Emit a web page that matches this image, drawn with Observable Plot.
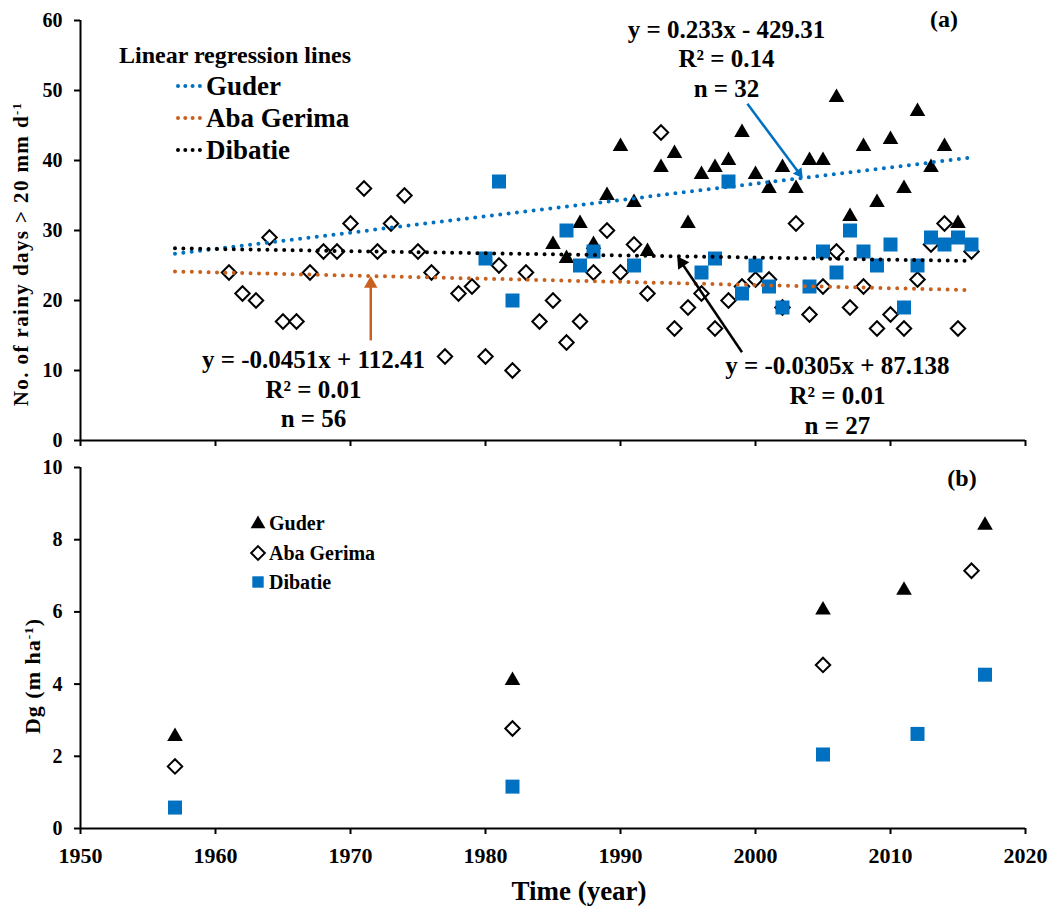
<!DOCTYPE html>
<html><head><meta charset="utf-8">
<script src="https://cdn.jsdelivr.net/npm/d3@7"></script>
<script src="https://cdn.jsdelivr.net/npm/@observablehq/plot@0.6"></script>
<style>
html,body{margin:0;padding:0;background:#fff;}
#wrap{position:relative;width:1052px;height:908px;overflow:hidden;font-family:"Liberation Serif","Times New Roman",serif;font-weight:bold;color:#000;}
#wrap .abs{position:absolute;white-space:nowrap;line-height:1;}
#wrap .panel{position:absolute;left:0;}
#wrap svg text{font-family:"Liberation Serif","Times New Roman",serif !important;font-weight:bold !important;}
sup{font-size:0.6em;vertical-align:0.55em;line-height:0;}
</style></head><body><div id="wrap"></div>
<script>
// ---------------- data ----------------
const stations = ["Guder", "Aba Gerima", "Dibatie"];

// (a) number of rainy days > 20 mm per year
const guderYears = [1985,1986,1987,1988,1989,1990,1991,1992,1993,1994,1995,1996,1997,1998,1999,2000,2001,2002,2003,2004,2005,2006,2007,2008,2009,2010,2011,2012,2013,2014,2015];
const guderDays  = [28,26,31,28,35,42,34,27,39,41,31,38,39,40,44,38,36,39,36,40,40,49,32,42,34,43,36,47,39,42,31];

const abaYears = [1961,1962,1963,1964,1965,1966,1967,1968,1969,1970,1971,1972,1973,1974,1975,1976,1977,1978,1979,1980,1981,1982,1983,1984,1985,1986,1987,1988,1989,1990,1991,1992,1993,1994,1995,1996,1997,1998,1999,2000,2001,2002,2003,2004,2005,2006,2007,2008,2009,2010,2011,2012,2013,2014,2015,2016];
const abaDays  = [24,21,20,29,17,17,24,27,27,31,36,27,31,35,27,24,12,21,22,12,25,10,24,17,20,14,17,24,30,24,28,21,44,16,19,21,16,20,22,23,23,19,31,18,22,27,19,22,16,18,16,23,28,31,16,27];

const dibatieYears = [1980,1981,1982,1986,1987,1988,1991,1996,1997,1998,1999,2000,2001,2002,2004,2005,2006,2007,2008,2009,2010,2011,2012,2013,2014,2015,2016];
const dibatieDays  = [26,37,20,30,25,27,25,24,26,37,21,25,22,19,22,27,24,30,27,25,28,19,25,29,28,29,28];

// linear regression lines (as reported in the chart)
const trendSlope     = [0.233, -0.0451, -0.0305];
const trendIntercept = [-429.31, 112.41, 87.138];
const trendR2        = [0.14, 0.01, 0.01];
const trendN         = [32, 56, 27];
const trendSpan      = [1957, 2016];

// (b) Dg (m ha-1)
const dgGuderYears   = [1957, 1982, 2005, 2011, 2017];
const dgGuder        = [2.55, 4.1, 6.05, 6.6, 8.4];
const dgAbaYears     = [1957, 1982, 2005, 2016];
const dgAba          = [1.72, 2.77, 4.53, 7.14];
const dgDibatieYears = [1957, 1982, 2005, 2012, 2017];
const dgDibatie      = [0.58, 1.16, 2.05, 2.62, 4.26];

const xTicks  = [1950, 1960, 1970, 1980, 1990, 2000, 2010, 2020];
const yTicksA = [0, 10, 20, 30, 40, 50, 60];
const yTicksB = [0, 2, 4, 6, 8, 10];

// ---------------- styles ----------------
const FONT = "Liberation Serif, Times New Roman, serif";
const BLUE = "#0070C0", ORANGE = "#C8611F", BLACK = "#000000";
const trendColors = [BLUE, ORANGE, BLACK];

const toRows = (years, vals) => years.map((x, i) => ({x, y: vals[i]}));
const rainG = toRows(guderYears, guderDays);
const rainA = toRows(abaYears, abaDays);
const rainD = toRows(dibatieYears, dibatieDays);
const trendRows = stations.map((s, i) => trendSpan.map(x => ({x, y: trendSlope[i] * x + trendIntercept[i]})));
const eqLabel = i => {
  const b = trendIntercept[i];
  return `y = ${trendSlope[i]}x ${b < 0 ? "-" : "+"} ${Math.abs(b)}\nR² = ${trendR2[i].toFixed(2)}\nn = ${trendN[i]}`;
};
const onTrend = (i, x) => trendSlope[i] * x + trendIntercept[i];

const commonStyle = {fontFamily: FONT, fontWeight: "bold", fontSize: "20px", background: "transparent", color: "#000", overflow: "visible"};
const axisOpts = {fontSize: 20, fontWeight: "bold", fontFamily: FONT, strokeWidth: 2, tickSize: 6, label: null};

const symMarks = (g, a, d) => [
  Plot.dot(g, {x: "x", y: "y", symbol: "triangle", r: 5.8, fill: BLACK, stroke: "none"}),
  Plot.dot(a, {x: "x", y: "y", symbol: "diamond2", r: 6.5, fill: "white", stroke: BLACK, strokeWidth: 2}),
  Plot.dot(d, {x: "x", y: "y", symbol: "square", r: 7.9, fill: BLUE, stroke: "none"})
];

// arrow with a filled triangular head (pixel scale of panel a: 13.5 px/yr, 7 px/day)
const KX = 945 / 70, KY = 420 / 60;
function arrowMarks(x1, y1, x2, y2, color, r) {
  const dxp = (x2 - x1) * KX, dyp = -(y2 - y1) * KY;
  const len = Math.hypot(dxp, dyp), ux = dxp / len, uy = dyp / len;
  const tipOff = 2 * Math.sqrt(Math.PI * r * r / (3 * Math.sqrt(3)));
  const cx = x2 - ux * tipOff / KX, cy = y2 + uy * tipOff / KY;
  const ang = Math.atan2(ux, -uy) * 180 / Math.PI;
  return [
    Plot.link([0], {x1, y1, x2: x2 - ux * (tipOff * 0.5) / KX, y2: y2 + uy * (tipOff * 0.5) / KY, stroke: color, strokeWidth: 2.5}),
    Plot.dot([0], {x: cx, y: cy, symbol: "triangle", r, rotate: ang, fill: color, stroke: "none"})
  ];
}

// ---------------- panel (a) ----------------
const plotA = Plot.plot({
  width: 1052, height: 450,
  marginLeft: 80, marginRight: 27, marginTop: 20, marginBottom: 10,
  style: commonStyle,
  x: {domain: [1950, 2020], axis: null},
  y: {domain: [0, 60], axis: null},
  marks: [
    Plot.axisY({...axisOpts, ticks: yTicksA, tickPadding: 12}),
    Plot.axisX({...axisOpts, ticks: xTicks, tickFormat: () => ""}),
    Plot.ruleX([1950], {strokeWidth: 2}),
    Plot.ruleY([0], {strokeWidth: 2}),
    ...symMarks(rainG, rainA, rainD),
    ...trendRows.map((rows, i) => Plot.line(rows, {x: "x", y: "y", stroke: trendColors[i], strokeWidth: 4, strokeDasharray: "0 8.4", strokeLinecap: "round"})),
    // arrows pointing to the regression lines
    ...arrowMarks(1999.4, 48.1, 2003.5, onTrend(0, 2003.5), BLUE, 4),
    ...arrowMarks(1971.5, 14.3, 1971.5, onTrend(1, 1971.5), ORANGE, 5),
    ...arrowMarks(1999.0, 12.6, 1994.2, onTrend(2, 1994.2), BLACK, 5),
    // regression equations
    Plot.text([eqLabel(0)], {x: 1997.85, y: 54.7, text: d => d, fontSize: 25, fontWeight: "bold", fontFamily: FONT, lineAnchor: "middle", lineHeight: 1.18, fill: BLACK}),
    Plot.text([eqLabel(1)], {x: 1967.26, y: 7.43, text: d => d, fontSize: 25, fontWeight: "bold", fontFamily: FONT, lineAnchor: "middle", lineHeight: 1.18, fill: BLACK}),
    Plot.text([eqLabel(2)], {x: 2006.07, y: 6.6, text: d => d, fontSize: 25, fontWeight: "bold", fontFamily: FONT, lineAnchor: "middle", lineHeight: 1.2, fill: BLACK})
  ]
});

// ---------------- panel (b) ----------------
const plotB = Plot.plot({
  width: 1052, height: 458,
  marginLeft: 80, marginRight: 27, marginTop: 17, marginBottom: 80,
  style: commonStyle,
  x: {domain: [1950, 2020], axis: null},
  y: {domain: [0, 10], axis: null},
  marks: [
    Plot.axisY({...axisOpts, ticks: yTicksB, tickPadding: 12}),
    Plot.axisX({...axisOpts, ticks: xTicks, tickPadding: 13, tickFormat: d => String(d), fontSize: 22}),
    Plot.ruleX([1950], {strokeWidth: 2}),
    Plot.ruleY([0], {strokeWidth: 2}),
    ...symMarks(toRows(dgGuderYears, dgGuder), toRows(dgAbaYears, dgAba), toRows(dgDibatieYears, dgDibatie))
  ]
});

// ---------------- assemble ----------------
const wrap = document.getElementById("wrap");
const pa = document.createElement("div"); pa.className = "panel"; pa.style.top = "0px"; pa.appendChild(plotA); wrap.appendChild(pa);
const pb = document.createElement("div"); pb.className = "panel"; pb.style.top = "450px"; pb.appendChild(plotB); wrap.appendChild(pb);

function addText(html, left, top, size, align, extra) {
  const d = document.createElement("div");
  d.className = "abs";
  d.innerHTML = html;
  d.style.left = left + "px";
  d.style.top = top + "px";
  d.style.fontSize = size + "px";
  if (extra) Object.assign(d.style, extra);
  d.style.transform = align === "center" ? "translate(-50%,-50%)" : align === "rot" ? "translate(-50%,-50%) rotate(-90deg)" : "translateY(-50%)";
  wrap.appendChild(d);
  return d;
}

// axis titles
addText("No. of rainy days &gt; 20 mm d<sup>-1</sup>", 21, 254, 21, "rot", {letterSpacing: "1.4px"});
addText("Dg (m ha<sup>-1</sup>)", 33, 676, 22, "rot", {letterSpacing: "1px"});
addText("Time (year)", 579, 891, 27, "center");
addText("(a)", 944, 19, 24, "center");
addText("(b)", 962, 478, 24, "center");

// legend (a): regression lines
addText("Linear regression lines", 119, 55, 24, "left");
const legendY = [86, 118, 150];
const lsvg = d3.select(wrap).append("svg").attr("width", 1052).attr("height", 908)
  .style("position", "absolute").style("left", 0).style("top", 0).style("pointer-events", "none");
stations.forEach((s, i) => {
  lsvg.append("line").attr("x1", 178).attr("x2", 200).attr("y1", legendY[i]).attr("y2", legendY[i])
    .attr("stroke", trendColors[i]).attr("stroke-width", 4).attr("stroke-linecap", "round").attr("stroke-dasharray", "0 7.3");
  addText(s, 206, legendY[i], 27, "left");
});

// legend (b): symbols
const legBY = [523, 553, 582];
const symPaths = [d3.symbol(d3.symbolTriangle, 95)(), d3.symbol(d3.symbolDiamond2, 120)(), d3.symbol(d3.symbolSquare, 130)()];
const symFill = [BLACK, "white", BLUE];
const symStroke = ["none", BLACK, "none"];
stations.forEach((s, i) => {
  lsvg.append("path").attr("d", symPaths[i]).attr("transform", `translate(258,${legBY[i] + (i === 0 ? 1 : 0)})`)
    .attr("fill", symFill[i]).attr("stroke", symStroke[i]).attr("stroke-width", 2);
  addText(s, 269, legBY[i], 20, "left");
});
</script>
</body></html>
